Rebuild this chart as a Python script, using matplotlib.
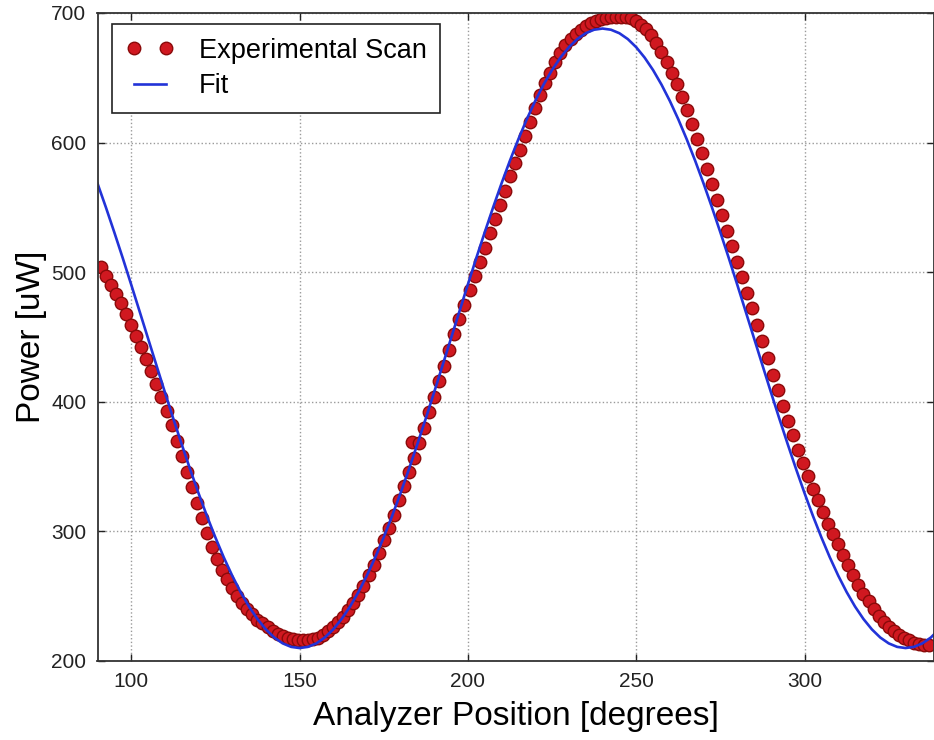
import numpy as np
import matplotlib
matplotlib.use("Agg")
import matplotlib.pyplot as plt

# analyzer scan, one reading every 1.5 degrees from 91 to 337
scan_x = np.arange(91, 337.1, 1.5)
scan_power = [
    504, 497, 490, 483, 476, 468, 459, 451, 442, 433,
    424, 414, 404, 393, 382, 370, 358, 346, 334, 322,
    310, 299, 288, 279, 270, 263, 256, 250, 245, 240,
    236, 232, 229, 226, 223, 221, 219, 218, 217, 216,
    216, 216, 217, 218, 220, 223, 226, 230, 234, 239,
    245, 251, 258, 266, 274, 283, 293, 303, 313, 324,
    335, 346, 357, 368, 380, 392, 404, 416, 428, 440,
    452, 464, 475, 486, 497, 508, 519, 530, 541, 552,
    563, 574, 584, 594, 605, 616, 627, 637, 646, 654,
    662, 669, 675, 680, 684, 687, 690, 692, 694, 695,
    696, 697, 697, 697, 697, 696, 694, 691, 688, 683,
    677, 670, 662, 654, 645, 635, 625, 614, 603, 592,
    580, 568, 556, 544, 532, 520, 508, 496, 484, 472,
    459, 447, 434, 421, 409, 397, 385, 374, 363, 353,
    343, 333, 324, 315, 306, 298, 290, 282, 274, 266,
    259, 252, 246, 240, 235, 230, 226, 223, 220, 218,
    216, 214, 213, 212, 212,
]
# one stray reading off the trend
glitch_x = [183.5]
glitch_power = [369]

# fitted curve, sampled every 2.5 degrees from 90 to 340
fit_x = np.arange(90, 340.1, 2.5)
fit_power = [
    568.5, 550.0, 530.7, 510.9, 490.5, 469.8, 449.0, 428.2, 407.5, 387.1,
    367.3, 348.0, 329.5, 311.9, 295.4, 280.0, 265.9, 253.2, 242.0, 232.4,
    224.4, 218.1, 213.6, 210.9, 210.0,
    210.9, 213.6, 218.1, 224.4, 232.4, 242.0, 253.2, 265.9, 280.0, 295.4,
    311.9, 329.5, 348.0, 367.3, 387.1, 407.5, 428.2, 449.0, 469.8, 490.5,
    510.9, 530.7, 550.0, 568.5, 586.1, 602.6, 618.0, 632.1, 644.8, 656.0,
    665.6, 673.6, 679.9, 684.4, 687.1, 688.0,
    687.1, 684.4, 679.9, 673.6, 665.6, 656.0, 644.8, 632.1, 618.0, 602.6,
    586.1, 568.5, 550.0, 530.7, 510.9, 490.5, 469.8, 449.0, 428.2, 407.5,
    387.1, 367.3, 348.0, 329.5, 311.9, 295.4, 280.0, 265.9, 253.2, 242.0,
    232.4, 224.4, 218.1, 213.6, 210.9, 210.0,
    210.9, 213.6, 218.1, 224.4,
]

xticks = [100, 150, 200, 250, 300]
yticks = [200, 300, 400, 500, 600, 700]

plt.rcParams["font.family"] = ["Liberation Sans", "DejaVu Sans"]

fig = plt.figure(figsize=(9.34, 7.40), dpi=100)
ax = fig.add_axes([97.5 / 934, 79 / 740, 836 / 934, 648 / 740])

px = np.concatenate([scan_x, glitch_x])
py = np.concatenate([scan_power, glitch_power])
order = np.argsort(px)
ax.plot(px[order], py[order], linestyle="none", marker="o", markersize=9,
        markerfacecolor="#d01820", markeredgecolor="#8a0a0a",
        markeredgewidth=1.0, label="Experimental Scan")
ax.plot(fit_x, fit_power, color="#2233d8", linewidth=1.9, label="Fit")

ax.set_xlim(90, 338.3)
ax.set_ylim(200, 700)
ax.set_xticks(xticks)
ax.set_yticks(yticks)
ax.grid(True, linestyle=":", color="#9a9a9a", linewidth=1.0)
ax.tick_params(direction="in", length=5, width=1, top=True, right=True,
               labelsize=15, colors="#222222", pad=8)
for s in ax.spines.values():
    s.set_color("#333333")
    s.set_linewidth(1.3)

ax.set_xlabel("Analyzer Position [degrees]", fontsize=24, labelpad=7)
ax.set_ylabel("Power [uW]", fontsize=24, labelpad=3)

leg = ax.legend(loc="upper left", bbox_to_anchor=(14.5 / 836, 1 - 11 / 648),
                borderaxespad=0, numpoints=2, fontsize=19.5, fancybox=False,
                framealpha=1, edgecolor="#222222", handlelength=1.8,
                handletextpad=0.9, labelspacing=0.35, borderpad=0.5)
leg.get_frame().set_linewidth(1.2)

fig.savefig("out.png", dpi=100)
